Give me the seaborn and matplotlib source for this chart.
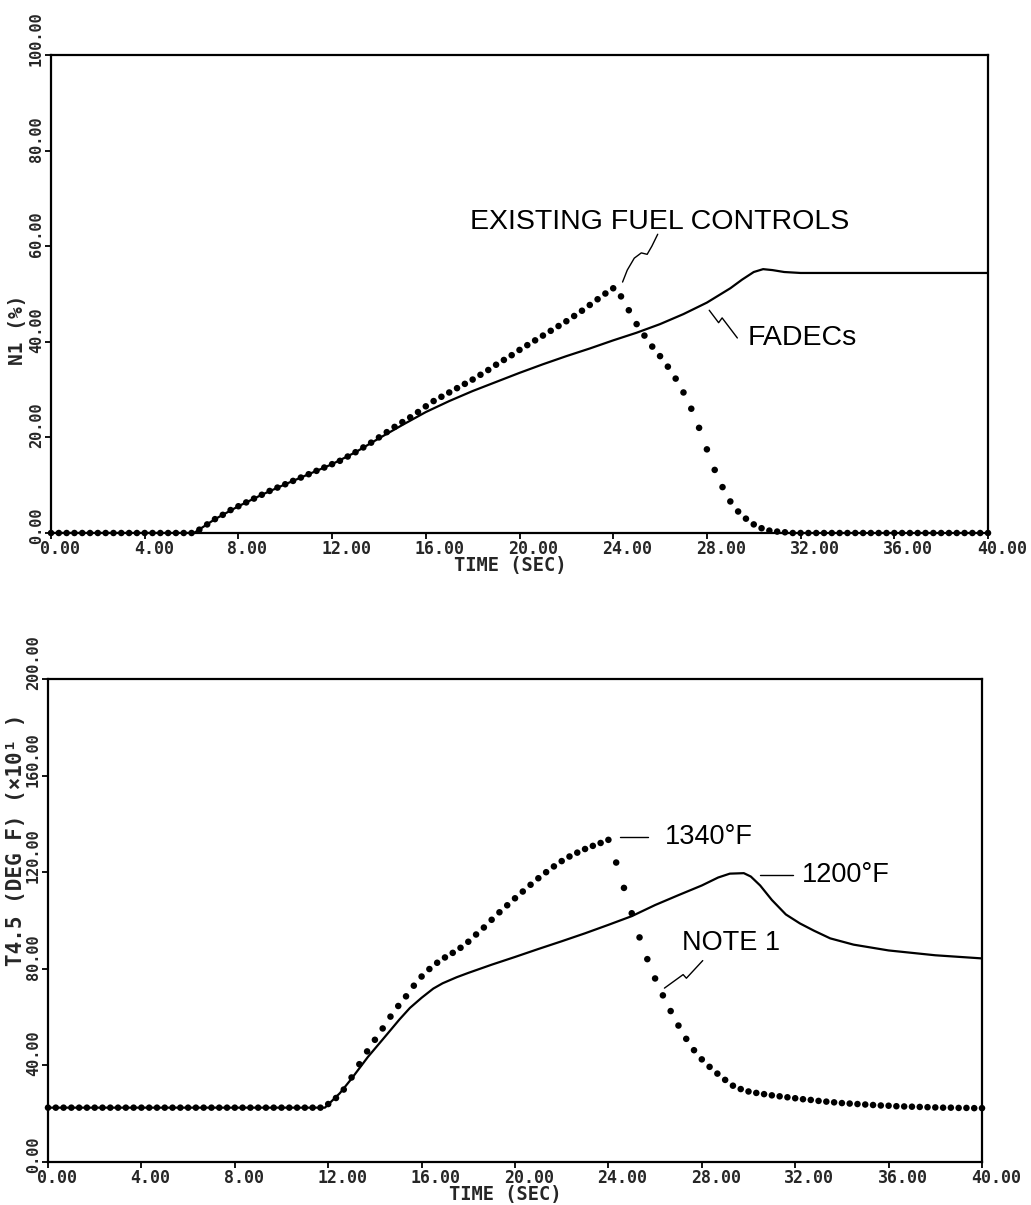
import numpy as np
import pandas as pd
import matplotlib
matplotlib.use("Agg")
import matplotlib.pyplot as plt
from matplotlib.transforms import ScaledTranslation
import seaborn as sns

# ---------------- data ----------------
# sampling grid of the dotted (existing fuel control) traces: one marker every 1/3 s
time_s = np.arange(121) / 3.0

n1_existing = [
    0, 0, 0, 0, 0, 0, 0, 0, 0, 0,
    0, 0, 0, 0, 0, 0, 0, 0, 0, 0.7,
    1.8, 2.9, 3.8, 4.8, 5.6, 6.4, 7.2, 8.0, 8.8, 9.5,
    10.2, 10.9, 11.6, 12.3, 13.0, 13.7, 14.4, 15.1, 16.0, 16.9,
    17.9, 18.9, 20.0, 21.1, 22.2, 23.2, 24.2, 25.3, 26.5, 27.6,
    28.5, 29.4, 30.3, 31.2, 32.1, 33.1, 34.1, 35.2, 36.2, 37.2,
    38.3, 39.3, 40.3, 41.3, 42.3, 43.3, 44.3, 45.4, 46.5, 47.7,
    48.9, 50.1, 51.2, 49.5, 46.6, 43.7, 41.3, 39.0, 37.0, 34.8,
    32.3, 29.4, 26.0, 22.0, 17.5, 13.2, 9.6, 6.6, 4.5, 3.0,
    1.8, 1.0, 0.5, 0.3, 0.15, 0, 0, 0, 0, 0,
    0, 0, 0, 0, 0, 0, 0, 0, 0, 0,
    0, 0, 0, 0, 0, 0, 0, 0, 0, 0,
    0]

fadec_n1_time = [0, 6.1, 7, 8, 9, 10, 11, 12, 13, 14, 15, 16, 17, 18, 19, 20, 21, 22,
                 23, 24, 25, 26, 27, 28, 29, 29.5, 30, 30.4, 30.8, 31.3, 32, 34, 36, 38, 40]
n1_fadec = [0, 0, 2.9, 5.6, 8.0, 10.2, 12.3, 14.4, 16.9, 19.8, 22.6, 25.3, 27.6, 29.7,
            31.6, 33.5, 35.3, 37.0, 38.6, 40.3, 41.9, 43.7, 45.8, 48.2, 51.2, 53.0, 54.6,
            55.2, 55.0, 54.6, 54.4, 54.4, 54.4, 54.4, 54.4]

t45_existing = [
    22.5, 22.5, 22.5, 22.5, 22.5, 22.5, 22.5, 22.5, 22.5, 22.5,
    22.5, 22.5, 22.5, 22.5, 22.5, 22.5, 22.5, 22.5, 22.5, 22.5,
    22.5, 22.5, 22.5, 22.5, 22.5, 22.5, 22.5, 22.5, 22.5, 22.5,
    22.5, 22.5, 22.5, 22.5, 22.5, 22.5, 24.0, 26.5, 30.0, 35.0,
    40.5, 45.8, 50.6, 55.3, 60.2, 64.6, 68.6, 73.0, 76.8, 79.9,
    82.5, 84.7, 86.6, 88.7, 91.2, 94.2, 97.1, 100.3, 103.4, 106.3,
    109.2, 112.0, 114.8, 117.5, 120.0, 122.4, 124.6, 126.5, 128.1, 129.6,
    130.9, 132.1, 133.4, 124.0, 113.5, 103.0, 93.0, 84.0, 76.0, 69.0,
    62.5, 56.5, 51.0, 46.3, 42.5, 39.4, 36.6, 34.0, 31.6, 30.2,
    29.2, 28.6, 28.1, 27.6, 27.2, 26.8, 26.4, 26.0, 25.7, 25.3,
    25.0, 24.7, 24.4, 24.2, 24.0, 23.8, 23.6, 23.4, 23.3, 23.1,
    23.0, 22.9, 22.8, 22.7, 22.6, 22.5, 22.5, 22.4, 22.4, 22.3,
    22.3]

fadec_t45_time = [0, 11.86, 12.5, 13.0, 13.7, 14.4, 15.05, 15.5, 16.0, 16.5, 16.9, 17.5,
                  18.0, 19.0, 20.0, 21.0, 22.0, 23.0, 24.0, 25.0, 26.0, 27.0, 28.0, 28.7,
                  29.2, 29.8, 30.1, 30.5, 31.0, 31.6, 32.2, 32.8, 33.5, 34.5, 36.0, 38.0, 40.0]
t45_fadec = [22.5, 22.5, 28.5, 34.5, 43.5, 51.5, 59.0, 63.8, 68.0, 71.8, 74.0, 76.5,
             78.3, 81.7, 84.9, 88.2, 91.4, 94.7, 98.2, 101.8, 106.4, 110.5, 114.5, 117.8,
             119.4, 119.6, 118.2, 114.5, 108.5, 102.5, 98.8, 95.8, 92.6, 90.0, 87.6, 85.6, 84.3]

x_ticks = [0, 4, 8, 12, 16, 20, 24, 28, 32, 36, 40]
x_tick_labels = ["0.00", "4.00", "8.00", "12.00", "16.00", "20.00",
                 "24.00", "28.00", "32.00", "36.00", "40.00"]
n1_ticks = [0, 20, 40, 60, 80, 100]
n1_tick_labels = ["0.00", "20.00", "40.00", "60.00", "80.00", "100.00"]
t45_ticks = [0, 40, 80, 120, 160, 200]
t45_tick_labels = ["0.00", "40.00", "80.00", "120.00", "160.00", "200.00"]

# annotation leader paths (time, value)
lead_existing = ([24.4, 24.6, 24.9, 25.2, 25.45, 25.65, 25.9],
                 [52.5, 55.0, 57.5, 58.6, 58.3, 60.0, 62.5])
lead_fadec = ([28.1, 28.5, 28.65, 29.3], [46.6, 44.0, 45.0, 40.8])
lead_1340 = ([24.5, 25.7], [134.6, 134.6])
lead_1200 = ([30.5, 31.9], [118.8, 118.8])
lead_note = ([26.4, 27.2, 27.34, 28.04], [72.0, 77.6, 76.1, 83.4])

# ---------------- style ----------------
sns.set_style("ticks")
plt.rcParams['font.family'] = ['DejaVu Sans Mono']
plt.rcParams['axes.linewidth'] = 1.5

W, H, DPI = 1031, 1205, 100
fig = plt.figure(figsize=(W / DPI, H / DPI), dpi=DPI)
ax1 = fig.add_axes([51 / W, 1 - 533 / H, 937 / W, 478 / H])
ax2 = fig.add_axes([48 / W, 1 - 1162 / H, 934 / W, 483 / H])

ann_top = dict(family=['Liberation Sans', 'DejaVu Sans'], fontsize=20.5, color='black')
ann_bot = dict(family=['Liberation Sans', 'DejaVu Sans'], fontsize=19.5, color='black')


def draw(ax, dots, line_t, line_v, ymax, yticks, ylabels, ylabel, ylab_size,
         ylab_x_px, ylab_y, wpx, hpx):
    df_d = pd.DataFrame({'t': time_s, 'v': dots})
    df_l = pd.DataFrame({'t': line_t, 'v': line_v})
    sns.lineplot(data=df_l, x='t', y='v', ax=ax, color='black', linewidth=1.6,
                 sort=False, estimator=None)
    sns.scatterplot(data=df_d, x='t', y='v', ax=ax, color='black', s=22,
                    edgecolor='none', linewidth=0, clip_on=False, zorder=3)
    ax.set_xlim(0, 40)
    ax.set_ylim(0, ymax)
    for sp in ax.spines.values():
        sp.set_visible(True)
        sp.set_linewidth(1.6)
        sp.set_color('black')
    ax.tick_params(axis='both', direction='out', length=4, width=1.3, color='black')
    ax.tick_params(axis='x', pad=1)
    ax.tick_params(axis='y', pad=6.5)
    ax.set_xticks(x_ticks)
    ax.set_xticklabels(x_tick_labels, fontsize=12, fontweight='bold', ha='left')
    ax.set_yticks(yticks)
    ax.set_yticklabels(ylabels, fontsize=11, fontweight='bold', rotation=90,
                       ha='center', va='bottom')
    offx = ScaledTranslation(-11 / DPI, 0, fig.dpi_scale_trans)
    for lab in ax.get_xticklabels():
        lab.set_transform(lab.get_transform() + offx)
    offy = ScaledTranslation(0, -11 / DPI, fig.dpi_scale_trans)
    for lab in ax.get_yticklabels():
        lab.set_transform(lab.get_transform() + offy)
    ax.set_xlabel('TIME (SEC)', fontsize=13.5, fontweight='bold', va='top')
    ax.xaxis.set_label_coords(0.49, -23 / hpx)
    ax.set_ylabel(ylabel, fontsize=ylab_size, fontweight='bold', va='center')
    ax.yaxis.set_label_coords(ylab_x_px / wpx, ylab_y)


draw(ax1, n1_existing, fadec_n1_time, n1_fadec, 100, n1_ticks, n1_tick_labels,
     'N1 (%)', 14, -33, 0.425, 937, 478)
draw(ax2, t45_existing, fadec_t45_time, t45_fadec, 200, t45_ticks, t45_tick_labels,
     'T4.5 (DEG F) (×10¹ )', 15, -32, 0.667, 934, 483)

# annotations (top)
ax1.plot(*lead_existing, color='black', lw=1.0, clip_on=False)
ax1.text(17.9, 65, 'EXISTING FUEL CONTROLS', va='center', ha='left', **ann_top)
ax1.plot(*lead_fadec, color='black', lw=1.0)
ax1.text(29.75, 40.8, 'FADECs', va='center', ha='left', **ann_top)

# annotations (bottom)
ax2.plot(*lead_1340, color='black', lw=1.0)
ax2.text(26.4, 134.6, '1340°F', va='center', ha='left', **ann_bot)
ax2.plot(*lead_1200, color='black', lw=1.0)
ax2.text(32.3, 118.8, '1200°F', va='center', ha='left', **ann_bot)
ax2.plot(*lead_note, color='black', lw=1.0)
ax2.text(27.15, 90.7, 'NOTE 1', va='center', ha='left', **ann_bot)

fig.savefig('out.png', dpi=DPI, facecolor='white')
